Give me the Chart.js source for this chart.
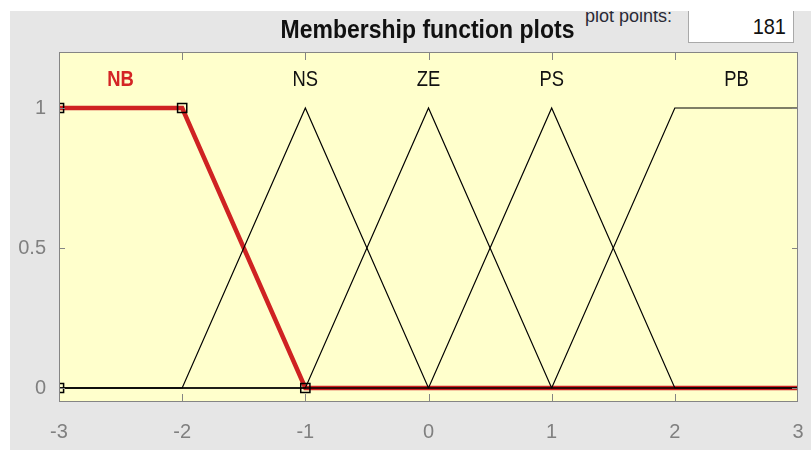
<!DOCTYPE html>
<html>
<head>
<meta charset="utf-8">
<script src="https://cdn.jsdelivr.net/npm/chart.js@4.4.0/dist/chart.umd.min.js"></script>
<style>
html,body{margin:0;padding:0;background:#fff;}
#wrap{position:relative;width:811px;height:450px;overflow:hidden;background:#fff;}
#panel{position:absolute;left:10px;top:11px;width:801px;height:439px;background:#e6e6e6;overflow:hidden;}
#c{position:absolute;left:0;top:0;}
#title{position:absolute;left:0;top:19px;width:855px;text-align:center;font:bold 23px 'Liberation Sans',Arial,sans-serif;line-height:23px;color:#111;white-space:nowrap;transform:scaleY(1.12);transform-origin:50% 85%;}
#pp{position:absolute;left:575px;top:-4px;font:18px 'Liberation Sans',Arial,sans-serif;line-height:18px;color:#2a2a36;white-space:nowrap;}
#box{position:absolute;left:678px;top:0;width:104px;height:31px;background:#fff;border:1px solid #a9a9a9;border-top:none;}
#boxv{position:absolute;right:7px;top:5px;font:20px 'Liberation Sans',Arial,sans-serif;line-height:20px;color:#111;transform:scaleY(1.12);}
</style>
</head>
<body>
<div id="wrap">
  <div id="panel">
    <div id="pp">plot points:</div>
    <div id="box"><div id="boxv">181</div></div>
  </div>
  <canvas id="c" width="811" height="450"></canvas>
  <div id="title">Membership function plots</div>
</div>
<script>
// ---- data ----
const xTicks = [-3, -2, -1, 0, 1, 2, 3];
const yTicks = [0, 0.5, 1];
const mfNames = ['NB', 'NS', 'ZE', 'PS', 'PB'];
const nbX = [-3, -2, -1, 3];      const nbY = [1, 1, 0, 0];
const nsX = [-3, -2, -1, 0, 3];   const nsY = [0, 0, 1, 0, 0];
const zeX = [-3, -1, 0, 1, 3];    const zeY = [0, 0, 1, 0, 0];
const psX = [-3, 0, 1, 2, 3];     const psY = [0, 0, 1, 0, 0];
const pbX = [-3, 1, 2, 3];        const pbY = [0, 0, 1, 1];
const nbMarkX = [-3, -3, -2, -1]; const nbMarkY = [0, 1, 1, 0];
const labelX = [-2.5, -1, 0, 1, 2.5];
const labelY = 1.1;

const FONT = "'Liberation Sans', Arial, Helvetica, sans-serif";
const zip = (xs, ys) => xs.map((x, i) => ({x: x, y: ys[i]}));

const bgPlugin = {
  id: 'bg',
  beforeDraw(chart) {
    const a = chart.chartArea, ctx = chart.ctx;
    ctx.save();
    ctx.fillStyle = '#ffffcc';
    ctx.fillRect(a.left, a.top, a.right - a.left, a.bottom - a.top);
    ctx.restore();
  }
};

const labelPlugin = {
  id: 'mflabels',
  afterDatasetsDraw(chart) {
    const ctx = chart.ctx, xs = chart.scales.x, ys = chart.scales.y;
    ctx.save();
    ctx.textAlign = 'center';
    ctx.textBaseline = 'middle';
    mfNames.forEach((n, i) => {
      const px = xs.getPixelForValue(labelX[i]);
      const py = ys.getPixelForValue(labelY);
      if (i === 0) { ctx.font = 'bold 20px ' + FONT; ctx.fillStyle = '#d42424'; }
      else { ctx.font = '20px ' + FONT; ctx.fillStyle = '#111'; }
      ctx.save();
      ctx.translate(px, py);
      ctx.scale(0.92, 1.1);
      ctx.fillText(n, 0, 0);
      ctx.restore();
    });
    ctx.restore();
  }
};

const framePlugin = {
  id: 'frame',
  afterDraw(chart) {
    const a = chart.chartArea, ctx = chart.ctx, xs = chart.scales.x, ys = chart.scales.y;
    ctx.save();
    ctx.strokeStyle = '#858585';
    ctx.lineWidth = 1;
    ctx.beginPath();
    xs.ticks.forEach(t => {
      if (t.value <= xs.min || t.value >= xs.max) return;
      const px = Math.round(xs.getPixelForValue(t.value)) + 0.5;
      ctx.moveTo(px, a.top); ctx.lineTo(px, a.top + 8);
      ctx.moveTo(px, a.bottom); ctx.lineTo(px, a.bottom - 8);
    });
    ys.ticks.forEach(t => {
      const py = Math.round(ys.getPixelForValue(t.value)) + 0.5;
      ctx.moveTo(a.left, py); ctx.lineTo(a.left + 6, py);
      ctx.moveTo(a.right, py); ctx.lineTo(a.right - 6, py);
    });
    ctx.stroke();
    ctx.strokeRect(Math.round(a.left) + 0.5, Math.round(a.top) + 0.5,
                   Math.round(a.right - a.left) - 1, Math.round(a.bottom - a.top) - 1);
    ctx.restore();
  }
};

const blackLine = (name, xs, ys) => ({
  label: name, data: zip(xs, ys), borderColor: '#000', borderWidth: 1.2,
  pointRadius: 0, fill: false, tension: 0, order: 2
});

new Chart(document.getElementById('c'), {
  type: 'line',
  data: {
    datasets: [
      { label: 'NB', data: zip(nbX, nbY), borderColor: '#cf2222', borderWidth: 4.5,
        pointRadius: 0, fill: false, tension: 0, order: 3 },
      blackLine('NS', nsX, nsY),
      blackLine('ZE', zeX, zeY),
      blackLine('PS', psX, psY),
      blackLine('PB', pbX, pbY),
      { label: 'NB vertices', data: zip(nbMarkX, nbMarkY), showLine: false,
        pointStyle: 'rect', pointRadius: 6.5, pointBorderColor: '#000',
        pointBackgroundColor: 'rgba(0,0,0,0)', pointBorderWidth: 1.5, clip: 0, order: 0 }
    ]
  },
  options: {
    responsive: false,
    animation: false,
    devicePixelRatio: 1,
    events: [],
    layout: { padding: { top: 52, right: 13, left: 0, bottom: 0 } },
    plugins: { legend: { display: false }, tooltip: { enabled: false }, title: { display: false } },
    scales: {
      x: {
        type: 'linear', min: -3, max: 3,
        afterBuildTicks: s => { s.ticks = xTicks.map(v => ({ value: v })); },
        afterFit: s => { s.height = 48; s.paddingLeft = 0; s.paddingRight = 0; },
        grid: { display: false, drawTicks: false }, border: { display: false },
        ticks: { color: '#808080', padding: 18, maxRotation: 0, autoSkip: false,
                 font: { size: 20, family: FONT }, callback: v => String(v) }
      },
      y: {
        type: 'linear', min: -0.05, max: 1.2,
        afterBuildTicks: s => { s.ticks = yTicks.map(v => ({ value: v })); },
        afterFit: s => { s.width = 59; s.paddingTop = 0; s.paddingBottom = 0; },
        grid: { display: false, drawTicks: false }, border: { display: false },
        ticks: { color: '#808080', padding: 13, autoSkip: false,
                 font: { size: 20, family: FONT }, callback: v => String(v) }
      }
    }
  },
  plugins: [bgPlugin, labelPlugin, framePlugin]
});
</script>
</body>
</html>
